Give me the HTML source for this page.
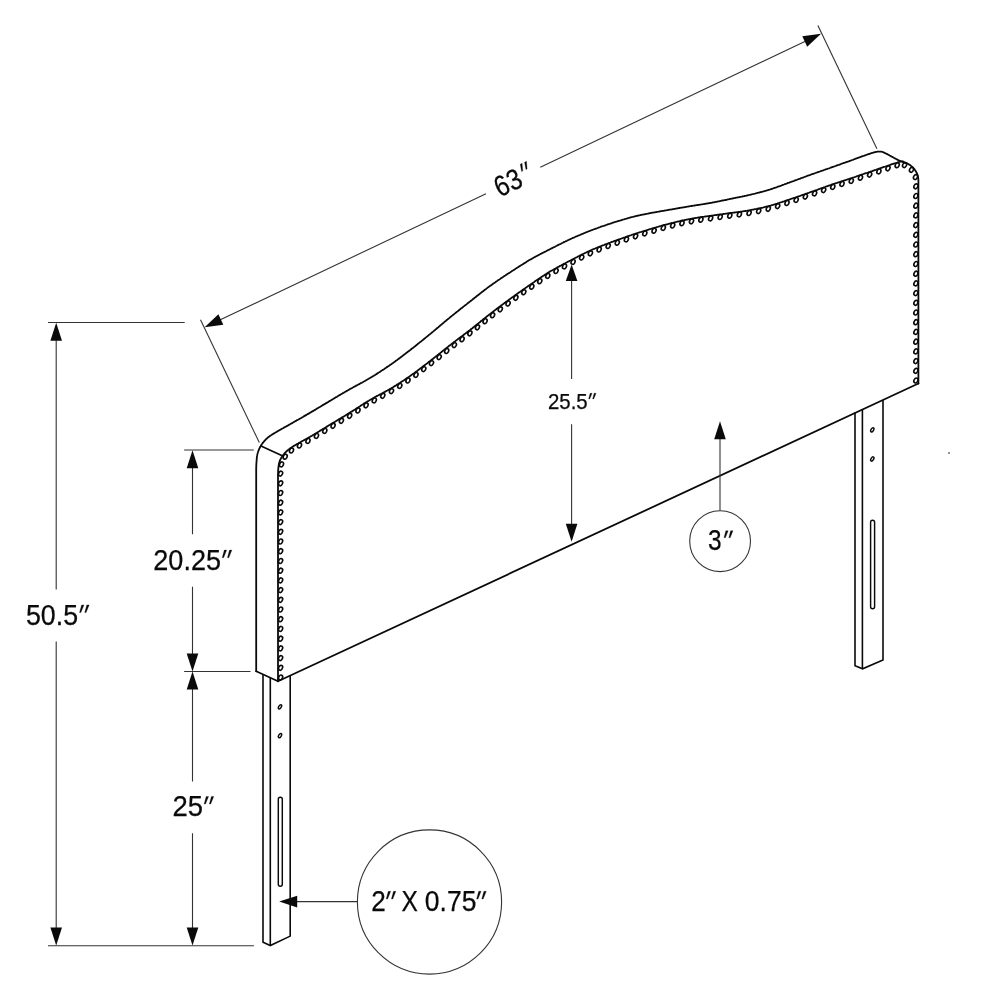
<!DOCTYPE html>
<html lang="en">
<head>
<meta charset="utf-8">
<title>Headboard dimensions</title>
<style>
html,body{margin:0;padding:0;background:#fff;}
body{width:981px;height:1000px;overflow:hidden;font-family:"Liberation Sans",sans-serif;}
svg{display:block;will-change:transform;}
</style>
</head>
<body>
<svg width="981" height="1000" viewBox="0 0 981 1000" role="img" aria-label="Headboard dimension drawing">
<rect width="981" height="1000" fill="#fff"/>
<g fill="none" stroke="#0a0a0a" stroke-width="1.8" stroke-linejoin="round" stroke-linecap="round">
<path d="M256.2 671.3 L256.2 470.0 L256.2 469.6 L256.2 469.3 L256.2 468.9 L256.2 468.6 L256.2 468.2 L256.2 467.9 L256.2 467.5 L256.2 467.2 L256.3 466.9 L256.3 466.6 L256.3 466.2 L256.3 465.9 L256.3 465.6 L256.3 465.3 L256.3 465.0 L256.3 464.6 L256.3 464.3 L256.4 464.0 L256.4 463.7 L256.4 463.3 L256.4 463.0 L256.4 462.7 L256.5 462.3 L256.5 462.0 L256.5 461.7 L256.6 461.3 L256.6 461.0 L256.6 460.6 L256.6 460.2 L256.7 459.9 L256.7 459.5 L256.7 459.2 L256.7 458.8 L256.8 458.4 L256.8 458.1 L256.8 457.7 L256.9 457.3 L256.9 457.0 L257.0 456.6 L257.0 456.3 L257.1 455.9 L257.1 455.5 L257.2 455.2 L257.3 454.8 L257.3 454.5 L257.4 454.1 L257.5 453.8 L257.6 453.4 L257.7 453.0 L257.8 452.7 L257.9 452.3 L258.0 452.0 L258.1 451.6 L258.3 451.3 L258.4 450.9 L258.5 450.6 L258.7 450.2 L258.8 449.9 L258.9 449.6 L259.1 449.2 L259.2 448.9 L259.4 448.5 L259.6 448.2 L259.7 447.8 L259.9 447.5 L260.1 447.2 L260.2 446.8 L260.4 446.5 L260.6 446.2 L260.8 445.8 L261.0 445.5 L261.2 445.2 L261.4 444.9 L261.6 444.6 L261.8 444.2 L262.0 443.9 L262.3 443.6 L262.5 443.3 L262.7 443.0 L263.0 442.7 L263.2 442.4 L263.5 442.1 L263.7 441.8 L264.0 441.5 L264.2 441.2 L264.5 440.9 L264.7 440.6 L265.0 440.3 L265.3 440.0 L265.6 439.7 L265.8 439.5 L266.1 439.2 L266.4 438.9 L266.7 438.6 L267.0 438.4 L267.3 438.1 L267.6 437.8 L267.9 437.6 L268.2 437.3 L268.5 437.1 L268.7 436.9 L269.0 436.7 L269.3 436.5 L269.6 436.2 L269.9 436.0 L270.2 435.8 L270.5 435.6 L270.8 435.4 L271.1 435.2 L271.5 435.0 L271.8 434.8 L272.2 434.5 L272.5 434.3 L272.9 434.1 L273.3 433.8 L273.7 433.6 L274.1 433.3 L274.6 433.1 L275.0 432.8 L275.5 432.5 L276.0 432.2 L276.5 431.9 L277.0 431.6 L277.6 431.3 L278.1 430.9 L278.7 430.6 L279.3 430.3 L279.9 429.9 L280.5 429.6 L281.1 429.2 L281.7 428.9 L282.4 428.5 L283.0 428.2 L283.7 427.8 L284.4 427.4 L285.1 427.0 L285.8 426.7 L286.5 426.3 L287.2 425.9 L287.9 425.5 L288.6 425.1 L289.3 424.6 L290.1 424.2 L290.8 423.8 L291.6 423.4 L292.3 422.9 L293.1 422.5 L293.9 422.0 L294.7 421.6 L295.5 421.1 L296.4 420.6 L297.2 420.1 L298.1 419.7 L298.9 419.2 L299.8 418.7 L300.7 418.2 L301.6 417.7 L302.4 417.2 L303.3 416.7 L304.2 416.1 L305.1 415.6 L306.0 415.1 L306.9 414.6 L307.7 414.1 L308.6 413.6 L309.5 413.1 L310.3 412.6 L311.2 412.1 L312.0 411.6 L312.9 411.1 L313.8 410.6 L314.6 410.1 L315.5 409.6 L316.3 409.1 L317.2 408.5 L318.0 408.0 L318.9 407.5 L319.8 407.0 L320.6 406.5 L321.5 405.9 L322.3 405.4 L323.2 404.9 L324.0 404.4 L324.9 403.9 L325.7 403.4 L326.6 402.9 L327.4 402.4 L328.2 401.9 L329.0 401.4 L329.9 400.9 L330.7 400.4 L331.5 399.9 L332.3 399.4 L333.1 399.0 L333.9 398.5 L334.7 398.0 L335.4 397.6 L336.2 397.1 L337.0 396.7 L337.7 396.2 L338.5 395.8 L339.2 395.3 L340.0 394.9 L340.7 394.4 L341.5 394.0 L342.2 393.6 L343.0 393.1 L343.8 392.7 L344.5 392.2 L345.3 391.8 L346.1 391.4 L346.8 390.9 L347.6 390.5 L348.4 390.0 L349.2 389.6 L350.0 389.1 L350.8 388.6 L351.6 388.2 L352.5 387.7 L353.3 387.3 L354.1 386.8 L355.0 386.4 L355.8 385.9 L356.7 385.4 L357.5 385.0 L358.4 384.5 L359.2 384.1 L360.1 383.6 L360.9 383.1 L361.8 382.7 L362.7 382.2 L363.5 381.7 L364.4 381.3 L365.3 380.8 L366.1 380.3 L367.0 379.8 L367.8 379.3 L368.7 378.8 L369.5 378.3 L370.4 377.8 L371.2 377.3 L372.1 376.8 L372.9 376.2 L373.8 375.7 L374.6 375.2 L375.5 374.7 L376.3 374.1 L377.2 373.6 L378.0 373.0 L378.9 372.5 L379.8 372.0 L380.6 371.4 L381.4 370.8 L382.3 370.3 L383.1 369.7 L384.0 369.2 L384.8 368.6 L385.7 368.0 L386.5 367.4 L387.4 366.9 L388.2 366.3 L389.1 365.7 L389.9 365.1 L390.8 364.5 L391.7 363.9 L392.5 363.3 L393.4 362.7 L394.2 362.1 L395.1 361.5 L395.9 360.8 L396.8 360.2 L397.6 359.6 L398.5 359.0 L399.3 358.3 L400.2 357.7 L401.0 357.0 L401.9 356.4 L402.7 355.7 L403.6 355.1 L404.4 354.4 L405.3 353.8 L406.1 353.1 L407.0 352.5 L407.8 351.8 L408.7 351.2 L409.5 350.5 L410.4 349.9 L411.2 349.2 L412.0 348.5 L412.9 347.9 L413.8 347.2 L414.6 346.5 L415.5 345.9 L416.3 345.2 L417.2 344.5 L418.0 343.8 L418.9 343.1 L419.8 342.4 L420.6 341.8 L421.5 341.1 L422.3 340.4 L423.2 339.7 L424.0 339.0 L424.9 338.3 L425.7 337.6 L426.6 336.9 L427.4 336.3 L428.2 335.6 L429.0 334.9 L429.9 334.2 L430.7 333.6 L431.5 332.9 L432.3 332.2 L433.1 331.6 L433.9 330.9 L434.7 330.3 L435.4 329.6 L436.2 329.0 L437.0 328.3 L437.7 327.7 L438.5 327.1 L439.2 326.4 L440.0 325.8 L440.7 325.1 L441.5 324.5 L442.2 323.9 L443.0 323.2 L443.8 322.6 L444.5 321.9 L445.3 321.3 L446.1 320.7 L446.8 320.0 L447.6 319.4 L448.4 318.7 L449.2 318.1 L450.0 317.4 L450.8 316.7 L451.6 316.1 L452.5 315.4 L453.3 314.7 L454.1 314.1 L455.0 313.4 L455.8 312.7 L456.7 312.0 L457.5 311.4 L458.4 310.7 L459.2 310.0 L460.1 309.3 L460.9 308.6 L461.8 308.0 L462.7 307.3 L463.5 306.6 L464.4 305.9 L465.3 305.2 L466.1 304.6 L467.0 303.9 L467.8 303.2 L468.7 302.5 L469.5 301.9 L470.4 301.2 L471.2 300.5 L472.1 299.9 L472.9 299.2 L473.8 298.5 L474.6 297.8 L475.5 297.2 L476.3 296.5 L477.2 295.8 L478.0 295.2 L478.9 294.5 L479.8 293.8 L480.6 293.1 L481.4 292.5 L482.3 291.8 L483.1 291.2 L484.0 290.5 L484.8 289.8 L485.7 289.2 L486.5 288.6 L487.4 287.9 L488.2 287.3 L489.1 286.6 L489.9 286.0 L490.8 285.4 L491.7 284.8 L492.5 284.2 L493.4 283.6 L494.2 283.0 L495.1 282.4 L495.9 281.8 L496.8 281.2 L497.6 280.6 L498.5 280.0 L499.3 279.5 L500.2 278.9 L501.0 278.3 L501.9 277.7 L502.7 277.2 L503.6 276.6 L504.4 276.0 L505.3 275.5 L506.1 274.9 L507.0 274.4 L507.8 273.8 L508.7 273.3 L509.5 272.7 L510.4 272.2 L511.2 271.6 L512.0 271.0 L512.9 270.5 L513.8 269.9 L514.6 269.4 L515.5 268.8 L516.3 268.3 L517.2 267.7 L518.0 267.2 L518.9 266.6 L519.8 266.1 L520.6 265.5 L521.5 265.0 L522.3 264.5 L523.2 263.9 L524.0 263.4 L524.9 262.9 L525.7 262.4 L526.6 261.8 L527.4 261.3 L528.2 260.8 L529.0 260.3 L529.9 259.8 L530.7 259.4 L531.5 258.9 L532.3 258.4 L533.1 258.0 L533.9 257.5 L534.7 257.1 L535.4 256.7 L536.2 256.3 L537.0 255.9 L537.7 255.5 L538.5 255.1 L539.2 254.7 L540.0 254.3 L540.7 253.9 L541.5 253.5 L542.2 253.1 L543.0 252.7 L543.8 252.4 L544.5 252.0 L545.3 251.6 L546.1 251.2 L546.8 250.8 L547.6 250.4 L548.4 250.0 L549.2 249.6 L550.0 249.2 L550.8 248.8 L551.6 248.4 L552.5 247.9 L553.3 247.5 L554.1 247.1 L555.0 246.7 L555.8 246.2 L556.7 245.8 L557.5 245.4 L558.4 244.9 L559.2 244.5 L560.1 244.1 L560.9 243.7 L561.8 243.2 L562.7 242.8 L563.5 242.4 L564.4 241.9 L565.3 241.5 L566.1 241.1 L567.0 240.7 L567.8 240.3 L568.7 239.9 L569.5 239.5 L570.4 239.1 L571.2 238.7 L572.1 238.3 L572.9 237.9 L573.8 237.6 L574.6 237.2 L575.5 236.8 L576.4 236.4 L577.2 236.1 L578.0 235.7 L578.9 235.3 L579.8 235.0 L580.6 234.6 L581.4 234.3 L582.3 233.9 L583.1 233.6 L584.0 233.2 L584.8 232.9 L585.7 232.5 L586.5 232.2 L587.4 231.8 L588.2 231.5 L589.1 231.2 L589.9 230.8 L590.8 230.5 L591.7 230.2 L592.5 229.8 L593.4 229.5 L594.2 229.2 L595.1 228.9 L595.9 228.6 L596.8 228.3 L597.6 228.0 L598.5 227.6 L599.3 227.3 L600.2 227.0 L601.0 226.7 L601.9 226.4 L602.7 226.2 L603.6 225.9 L604.4 225.6 L605.3 225.3 L606.1 225.0 L607.0 224.7 L607.8 224.4 L608.7 224.1 L609.5 223.9 L610.4 223.6 L611.2 223.3 L612.0 223.0 L612.9 222.7 L613.8 222.5 L614.6 222.2 L615.5 221.9 L616.3 221.6 L617.2 221.4 L618.0 221.1 L618.9 220.8 L619.8 220.6 L620.6 220.3 L621.5 220.1 L622.3 219.8 L623.2 219.5 L624.0 219.3 L624.9 219.0 L625.7 218.8 L626.6 218.6 L627.4 218.3 L628.2 218.1 L629.0 217.9 L629.9 217.6 L630.7 217.4 L631.5 217.2 L632.3 217.0 L633.1 216.8 L633.9 216.6 L634.7 216.4 L635.4 216.2 L636.2 216.0 L637.0 215.9 L637.7 215.7 L638.5 215.5 L639.2 215.4 L640.0 215.2 L640.7 215.0 L641.5 214.9 L642.2 214.7 L643.0 214.6 L643.8 214.4 L644.5 214.3 L645.3 214.1 L646.1 214.0 L646.8 213.8 L647.6 213.7 L648.4 213.5 L649.2 213.4 L650.0 213.2 L650.8 213.0 L651.6 212.9 L652.5 212.7 L653.3 212.6 L654.1 212.4 L655.0 212.3 L655.8 212.1 L656.7 212.0 L657.5 211.8 L658.4 211.7 L659.2 211.5 L660.1 211.4 L660.9 211.2 L661.8 211.1 L662.7 210.9 L663.5 210.8 L664.4 210.6 L665.3 210.5 L666.1 210.3 L667.0 210.2 L667.8 210.0 L668.7 209.9 L669.5 209.7 L670.4 209.6 L671.3 209.5 L672.1 209.3 L673.0 209.1 L673.9 209.0 L674.8 208.8 L675.7 208.7 L676.7 208.5 L677.6 208.4 L678.5 208.2 L679.4 208.0 L680.3 207.9 L681.2 207.7 L682.1 207.6 L683.0 207.4 L683.9 207.3 L684.8 207.1 L685.6 207.0 L686.4 206.8 L687.2 206.7 L688.0 206.6 L688.7 206.4 L689.5 206.3 L690.1 206.2 L690.8 206.1 L691.4 206.0 L692.0 205.9 L692.6 205.8 L693.1 205.7 L693.6 205.6 L694.1 205.6 L694.5 205.5 L695.0 205.4 L695.4 205.4 L695.8 205.3 L696.2 205.2 L696.5 205.2 L696.9 205.1 L697.3 205.1 L697.6 205.0 L698.0 205.0 L698.3 204.9 L698.7 204.9 L699.1 204.8 L699.4 204.8 L699.8 204.7 L700.2 204.6 L700.6 204.6 L701.0 204.5 L701.4 204.4 L701.8 204.4 L702.2 204.3 L702.6 204.3 L703.0 204.2 L703.3 204.1 L703.7 204.1 L704.0 204.0 L704.4 204.0 L704.7 203.9 L705.1 203.9 L705.5 203.8 L705.8 203.7 L706.2 203.7 L706.6 203.6 L707.1 203.5 L707.5 203.5 L707.9 203.4 L708.4 203.3 L708.9 203.2 L709.4 203.1 L710.0 203.0 L710.6 202.9 L711.2 202.8 L711.9 202.7 L712.5 202.5 L713.3 202.4 L714.0 202.3 L714.8 202.1 L715.6 201.9 L716.4 201.8 L717.3 201.6 L718.2 201.4 L719.0 201.3 L719.9 201.1 L720.8 200.9 L721.7 200.7 L722.7 200.5 L723.6 200.3 L724.5 200.1 L725.4 200.0 L726.3 199.8 L727.2 199.6 L728.1 199.4 L729.0 199.2 L729.8 199.0 L730.7 198.9 L731.5 198.7 L732.3 198.5 L733.1 198.4 L733.9 198.2 L734.7 198.1 L735.4 197.9 L736.2 197.7 L737.0 197.6 L737.7 197.4 L738.5 197.3 L739.2 197.1 L740.0 197.0 L740.7 196.8 L741.5 196.7 L742.2 196.5 L743.0 196.4 L743.8 196.2 L744.5 196.0 L745.3 195.9 L746.1 195.7 L746.8 195.5 L747.6 195.4 L748.4 195.2 L749.2 195.0 L750.0 194.8 L750.8 194.6 L751.6 194.4 L752.5 194.2 L753.3 194.0 L754.1 193.8 L755.0 193.6 L755.8 193.4 L756.7 193.2 L757.5 192.9 L758.4 192.7 L759.2 192.5 L760.1 192.3 L760.9 192.0 L761.8 191.8 L762.7 191.6 L763.5 191.3 L764.4 191.1 L765.3 190.8 L766.1 190.6 L767.0 190.3 L767.8 190.1 L768.7 189.8 L769.5 189.6 L770.4 189.3 L771.2 189.0 L772.1 188.8 L772.9 188.5 L773.8 188.2 L774.6 187.9 L775.5 187.6 L776.4 187.3 L777.2 187.0 L778.0 186.7 L778.9 186.4 L779.8 186.1 L780.6 185.8 L781.4 185.5 L782.3 185.1 L783.1 184.8 L784.0 184.5 L784.8 184.2 L785.7 183.9 L786.5 183.6 L787.4 183.2 L788.2 182.9 L789.1 182.6 L789.9 182.3 L790.8 182.0 L791.7 181.7 L792.5 181.4 L793.4 181.1 L794.2 180.8 L795.1 180.4 L795.9 180.1 L796.8 179.8 L797.6 179.5 L798.5 179.2 L799.3 178.9 L800.2 178.6 L801.0 178.2 L801.9 177.9 L802.7 177.6 L803.6 177.3 L804.4 177.0 L805.3 176.7 L806.1 176.4 L807.0 176.0 L807.8 175.7 L808.7 175.4 L809.5 175.1 L810.4 174.8 L811.2 174.5 L812.0 174.2 L812.9 173.9 L813.8 173.6 L814.6 173.3 L815.5 173.0 L816.3 172.7 L817.2 172.4 L818.0 172.1 L818.9 171.8 L819.8 171.5 L820.6 171.2 L821.5 170.9 L822.3 170.6 L823.2 170.3 L824.0 170.0 L824.9 169.7 L825.7 169.4 L826.6 169.1 L827.4 168.8 L828.2 168.5 L829.0 168.3 L829.9 168.0 L830.7 167.7 L831.5 167.4 L832.3 167.1 L833.1 166.8 L833.9 166.5 L834.7 166.3 L835.5 166.0 L836.3 165.7 L837.1 165.4 L837.9 165.1 L838.7 164.9 L839.5 164.6 L840.2 164.3 L841.0 164.0 L841.8 163.7 L842.6 163.5 L843.3 163.2 L844.1 162.9 L844.8 162.7 L845.6 162.4 L846.3 162.1 L847.1 161.8 L847.8 161.6 L848.6 161.3 L849.3 161.1 L850.0 160.8 L850.7 160.5 L851.4 160.3 L852.2 160.0 L852.9 159.8 L853.6 159.5 L854.4 159.2 L855.1 159.0 L855.8 158.7 L856.5 158.4 L857.2 158.2 L857.9 157.9 L858.6 157.7 L859.3 157.4 L860.0 157.2 L860.7 156.9 L861.3 156.7 L862.0 156.4 L862.6 156.2 L863.2 156.0 L863.8 155.8 L864.4 155.6 L864.9 155.4 L865.5 155.2 L866.0 155.0 L866.5 154.8 L867.0 154.7 L867.4 154.5 L867.9 154.3 L868.3 154.2 L868.7 154.1 L869.1 153.9 L869.5 153.8 L869.9 153.7 L870.2 153.6 L870.6 153.4 L870.9 153.3 L871.3 153.2 L871.6 153.1 L871.9 153.0 L872.2 152.9 L872.5 152.8 L872.8 152.8 L873.1 152.7 L873.4 152.6 L873.7 152.5 L873.9 152.4 L874.2 152.4 L874.5 152.3 L874.8 152.2 L875.0 152.2 L875.3 152.1 L875.5 152.0 L875.8 152.0 L876.0 151.9 L876.2 151.9 L876.5 151.8 L876.7 151.8 L876.9 151.8 L877.1 151.7 L877.3 151.7 L877.5 151.7 L877.6 151.6 L877.8 151.6 L878.0 151.6 L878.2 151.6 L878.4 151.6 L878.6 151.6 L878.8 151.6 L879.0 151.6 L879.2 151.6 L879.4 151.6 L879.6 151.6 L879.8 151.6 L880.0 151.6 L880.2 151.6 L880.3 151.6 L880.5 151.6 L880.7 151.6 L880.8 151.6 L881.0 151.7 L881.1 151.7 L881.3 151.7 L881.4 151.7 L881.6 151.7 L881.8 151.8 L881.9 151.8 L882.1 151.9 L882.3 151.9 L882.5 152.0 L882.8 152.1 L883.0 152.2 L883.3 152.3 L883.6 152.4 L884.0 152.6 L884.3 152.7 L884.7 152.9 L885.1 153.1 L885.6 153.3 L886.1 153.6 L886.6 153.8 L887.2 154.1 L887.8 154.4 L888.4 154.8 L889.0 155.1 L889.6 155.5 L890.3 155.8 L891.0 156.2 L891.6 156.6 L892.3 156.9 L893.0 157.3 L893.7 157.7 L894.3 158.0 L895.0 158.4 L895.6 158.7 L896.2 159.0 L896.8 159.4 L897.4 159.6 L897.9 159.9 L898.4 160.2 L898.9 160.4 L899.3 160.6 L899.8 160.8 L900.2 161.0 L900.6 161.2 L901.0 161.3 L901.4 161.5 L901.8 161.6 L902.2 161.8 L902.6 161.9 L902.9 162.0 L903.3 162.2 L903.6 162.3 L903.9 162.4 L904.2 162.5 L904.5 162.6 L904.8 162.6 L905.0 162.7 L905.3 162.8 L905.5 162.9 L905.7 162.9 L906.0 163.0 L906.2 163.1 L906.3 163.1 L906.5 163.2"/>
<path d="M278.0 681.3 L278.0 477.0 L278.0 476.6 L278.0 476.2 L278.0 475.9 L278.0 475.5 L278.0 475.1 L278.0 474.8 L278.0 474.4 L278.0 474.1 L278.0 473.7 L278.1 473.4 L278.1 473.0 L278.1 472.7 L278.1 472.3 L278.1 472.0 L278.1 471.7 L278.1 471.3 L278.1 471.0 L278.1 470.7 L278.2 470.3 L278.2 470.0 L278.2 469.7 L278.2 469.3 L278.3 469.0 L278.3 468.7 L278.3 468.4 L278.4 468.1 L278.4 467.7 L278.4 467.4 L278.5 467.1 L278.5 466.8 L278.6 466.5 L278.6 466.2 L278.6 465.8 L278.7 465.5 L278.7 465.2 L278.8 464.9 L278.8 464.6 L278.9 464.3 L278.9 464.0 L279.0 463.7 L279.1 463.4 L279.1 463.2 L279.2 462.9 L279.3 462.6 L279.3 462.3 L279.4 462.0 L279.5 461.8 L279.6 461.5 L279.7 461.2 L279.8 461.0 L279.9 460.7 L280.0 460.5 L280.1 460.2 L280.2 460.0 L280.3 459.7 L280.4 459.5 L280.5 459.3 L280.6 459.1 L280.7 458.8 L280.9 458.6 L281.0 458.4 L281.1 458.2 L281.2 457.9 L281.4 457.7 L281.5 457.5 L281.7 457.3 L281.8 457.0 L282.0 456.8 L282.1 456.6 L282.3 456.4 L282.4 456.1 L282.6 455.9 L282.8 455.7 L282.9 455.4 L283.1 455.2 L283.3 455.0 L283.5 454.7 L283.7 454.5 L283.8 454.3 L284.0 454.0 L284.2 453.8 L284.4 453.6 L284.6 453.3 L284.8 453.1 L285.0 452.9 L285.2 452.6 L285.5 452.4 L285.7 452.2 L285.9 451.9 L286.2 451.7 L286.4 451.5 L286.6 451.2 L286.9 451.0 L287.2 450.8 L287.4 450.5 L287.7 450.3 L288.0 450.1 L288.3 449.8 L288.5 449.6 L288.8 449.4 L289.1 449.2 L289.4 449.0 L289.7 448.8 L289.9 448.5 L290.2 448.3 L290.5 448.1 L290.8 447.9 L291.2 447.7 L291.5 447.5 L291.8 447.2 L292.2 447.0 L292.5 446.8 L292.9 446.6 L293.3 446.3 L293.7 446.1 L294.1 445.8 L294.5 445.5 L295.0 445.3 L295.4 445.0 L295.9 444.7 L296.4 444.4 L296.9 444.1 L297.4 443.8 L298.0 443.5 L298.5 443.2 L299.1 442.8 L299.7 442.5 L300.3 442.2 L300.9 441.9 L301.5 441.5 L302.2 441.2 L302.8 440.8 L303.4 440.5 L304.1 440.1 L304.8 439.7 L305.5 439.4 L306.2 439.0 L306.9 438.6 L307.6 438.2 L308.3 437.8 L309.0 437.4 L309.7 437.0 L310.5 436.5 L311.2 436.1 L312.0 435.7 L312.7 435.2 L313.5 434.7 L314.3 434.3 L315.1 433.8 L316.0 433.3 L316.8 432.8 L317.7 432.2 L318.5 431.7 L319.4 431.2 L320.3 430.6 L321.2 430.1 L322.0 429.6 L322.9 429.0 L323.8 428.5 L324.7 428.0 L325.6 427.4 L326.4 426.9 L327.3 426.4 L328.2 425.8 L329.0 425.3 L329.9 424.8 L330.7 424.3 L331.5 423.8 L332.3 423.3 L333.1 422.8 L333.9 422.4 L334.7 421.9 L335.4 421.4 L336.2 421.0 L337.0 420.5 L337.7 420.0 L338.5 419.6 L339.2 419.1 L340.0 418.7 L340.7 418.2 L341.5 417.8 L342.2 417.3 L343.0 416.9 L343.8 416.4 L344.5 416.0 L345.3 415.5 L346.1 415.0 L346.8 414.6 L347.6 414.1 L348.4 413.6 L349.2 413.1 L350.0 412.6 L350.8 412.1 L351.6 411.6 L352.5 411.1 L353.3 410.5 L354.1 410.0 L355.0 409.5 L355.8 408.9 L356.7 408.4 L357.5 407.8 L358.4 407.3 L359.2 406.7 L360.1 406.2 L360.9 405.6 L361.8 405.0 L362.7 404.5 L363.5 403.9 L364.4 403.4 L365.3 402.8 L366.1 402.3 L367.0 401.8 L367.8 401.2 L368.7 400.7 L369.5 400.2 L370.4 399.7 L371.2 399.2 L372.1 398.7 L372.9 398.2 L373.8 397.8 L374.6 397.3 L375.5 396.8 L376.3 396.4 L377.2 395.9 L378.0 395.5 L378.9 395.0 L379.8 394.6 L380.6 394.1 L381.4 393.7 L382.3 393.2 L383.1 392.8 L384.0 392.3 L384.8 391.9 L385.7 391.4 L386.5 390.9 L387.4 390.5 L388.2 390.0 L389.1 389.5 L389.9 389.0 L390.8 388.5 L391.7 388.0 L392.5 387.5 L393.4 387.0 L394.2 386.4 L395.1 385.9 L395.9 385.4 L396.8 384.8 L397.6 384.3 L398.5 383.8 L399.3 383.2 L400.2 382.7 L401.0 382.1 L401.9 381.5 L402.7 381.0 L403.6 380.4 L404.4 379.9 L405.3 379.3 L406.1 378.7 L407.0 378.1 L407.8 377.6 L408.7 377.0 L409.5 376.4 L410.4 375.8 L411.2 375.2 L412.0 374.6 L412.9 374.0 L413.8 373.4 L414.6 372.8 L415.5 372.1 L416.3 371.5 L417.2 370.9 L418.0 370.2 L418.9 369.6 L419.8 368.9 L420.6 368.3 L421.5 367.6 L422.3 367.0 L423.2 366.3 L424.0 365.7 L424.9 365.0 L425.7 364.4 L426.6 363.7 L427.4 363.1 L428.2 362.4 L429.0 361.8 L429.9 361.2 L430.7 360.5 L431.5 359.9 L432.3 359.3 L433.1 358.7 L433.9 358.0 L434.7 357.4 L435.4 356.8 L436.2 356.2 L437.0 355.6 L437.7 355.0 L438.5 354.4 L439.2 353.8 L440.0 353.2 L440.7 352.6 L441.5 352.0 L442.2 351.4 L443.0 350.7 L443.8 350.1 L444.5 349.5 L445.3 348.9 L446.1 348.3 L446.8 347.7 L447.6 347.1 L448.4 346.5 L449.2 345.8 L450.0 345.2 L450.8 344.6 L451.6 343.9 L452.5 343.3 L453.3 342.7 L454.1 342.0 L455.0 341.4 L455.8 340.8 L456.7 340.1 L457.5 339.5 L458.4 338.8 L459.2 338.2 L460.1 337.5 L460.9 336.9 L461.8 336.3 L462.7 335.6 L463.5 335.0 L464.4 334.3 L465.3 333.6 L466.1 333.0 L467.0 332.3 L467.8 331.7 L468.7 331.0 L469.5 330.4 L470.4 329.7 L471.2 329.0 L472.1 328.4 L472.9 327.7 L473.8 327.0 L474.6 326.3 L475.5 325.7 L476.3 325.0 L477.2 324.3 L478.0 323.6 L478.9 322.9 L479.8 322.2 L480.6 321.5 L481.4 320.8 L482.3 320.2 L483.1 319.5 L484.0 318.8 L484.8 318.1 L485.7 317.4 L486.5 316.7 L487.4 316.1 L488.2 315.4 L489.1 314.7 L489.9 314.1 L490.8 313.4 L491.7 312.7 L492.5 312.1 L493.4 311.4 L494.2 310.8 L495.1 310.1 L495.9 309.5 L496.8 308.8 L497.6 308.2 L498.5 307.5 L499.3 306.9 L500.2 306.3 L501.0 305.6 L501.9 305.0 L502.7 304.4 L503.6 303.7 L504.4 303.1 L505.3 302.5 L506.1 301.8 L507.0 301.2 L507.8 300.6 L508.7 300.0 L509.5 299.3 L510.4 298.7 L511.2 298.1 L512.0 297.5 L512.9 296.9 L513.8 296.3 L514.6 295.6 L515.5 295.0 L516.3 294.4 L517.2 293.8 L518.0 293.2 L518.9 292.6 L519.8 292.0 L520.6 291.4 L521.5 290.8 L522.3 290.2 L523.2 289.6 L524.0 289.0 L524.9 288.4 L525.7 287.8 L526.6 287.2 L527.4 286.6 L528.2 286.1 L529.0 285.5 L529.9 284.9 L530.7 284.4 L531.5 283.8 L532.3 283.3 L533.1 282.7 L533.9 282.2 L534.7 281.6 L535.4 281.1 L536.2 280.6 L537.0 280.1 L537.7 279.5 L538.5 279.0 L539.2 278.5 L540.0 278.0 L540.7 277.5 L541.5 277.0 L542.2 276.5 L543.0 276.0 L543.8 275.5 L544.5 275.0 L545.3 274.5 L546.1 274.0 L546.8 273.5 L547.6 273.1 L548.4 272.6 L549.2 272.1 L550.0 271.6 L550.8 271.1 L551.6 270.6 L552.5 270.2 L553.3 269.7 L554.1 269.2 L555.0 268.7 L555.8 268.3 L556.7 267.8 L557.5 267.3 L558.4 266.9 L559.2 266.4 L560.1 265.9 L560.9 265.5 L561.8 265.0 L562.7 264.5 L563.5 264.1 L564.4 263.6 L565.3 263.2 L566.1 262.7 L567.0 262.3 L567.8 261.8 L568.7 261.4 L569.5 260.9 L570.4 260.5 L571.2 260.1 L572.1 259.6 L572.9 259.2 L573.8 258.7 L574.6 258.3 L575.5 257.8 L576.4 257.4 L577.2 257.0 L578.0 256.5 L578.9 256.1 L579.8 255.6 L580.6 255.2 L581.4 254.8 L582.3 254.4 L583.1 253.9 L584.0 253.5 L584.8 253.1 L585.7 252.7 L586.5 252.3 L587.4 251.9 L588.2 251.5 L589.1 251.1 L589.9 250.7 L590.8 250.3 L591.7 249.9 L592.5 249.5 L593.4 249.2 L594.2 248.8 L595.1 248.5 L595.9 248.1 L596.8 247.8 L597.6 247.4 L598.5 247.1 L599.3 246.7 L600.2 246.4 L601.0 246.1 L601.9 245.7 L602.7 245.4 L603.6 245.1 L604.4 244.8 L605.3 244.4 L606.1 244.1 L607.0 243.8 L607.8 243.5 L608.7 243.2 L609.5 242.8 L610.4 242.5 L611.2 242.2 L612.0 241.9 L612.9 241.6 L613.8 241.2 L614.6 240.9 L615.5 240.6 L616.3 240.3 L617.2 240.0 L618.0 239.7 L618.9 239.4 L619.8 239.1 L620.6 238.8 L621.5 238.5 L622.3 238.2 L623.2 237.9 L624.0 237.6 L624.9 237.3 L625.7 237.0 L626.6 236.7 L627.4 236.4 L628.2 236.1 L629.0 235.8 L629.9 235.5 L630.7 235.3 L631.5 235.0 L632.3 234.7 L633.1 234.5 L633.9 234.2 L634.7 234.0 L635.4 233.7 L636.2 233.5 L637.0 233.2 L637.7 233.0 L638.5 232.7 L639.2 232.5 L640.0 232.2 L640.7 232.0 L641.5 231.8 L642.2 231.5 L643.0 231.3 L643.8 231.1 L644.5 230.8 L645.3 230.6 L646.1 230.4 L646.8 230.2 L647.6 229.9 L648.4 229.7 L649.2 229.4 L650.0 229.2 L650.8 229.0 L651.6 228.7 L652.5 228.5 L653.3 228.2 L654.1 228.0 L655.0 227.7 L655.8 227.5 L656.7 227.2 L657.5 227.0 L658.4 226.7 L659.2 226.5 L660.1 226.2 L660.9 226.0 L661.8 225.7 L662.7 225.5 L663.5 225.2 L664.4 225.0 L665.3 224.8 L666.1 224.5 L667.0 224.3 L667.8 224.1 L668.7 223.8 L669.5 223.6 L670.4 223.4 L671.2 223.2 L672.1 223.0 L672.9 222.8 L673.8 222.5 L674.6 222.3 L675.5 222.1 L676.4 221.9 L677.2 221.7 L678.0 221.5 L678.9 221.3 L679.8 221.1 L680.6 220.9 L681.4 220.7 L682.3 220.5 L683.1 220.4 L684.0 220.2 L684.8 220.0 L685.7 219.8 L686.5 219.6 L687.4 219.5 L688.2 219.3 L689.1 219.1 L689.9 219.0 L690.8 218.8 L691.7 218.6 L692.5 218.5 L693.4 218.3 L694.2 218.2 L695.1 218.1 L695.9 217.9 L696.8 217.8 L697.6 217.6 L698.5 217.5 L699.3 217.4 L700.2 217.3 L701.0 217.1 L701.9 217.0 L702.7 216.9 L703.6 216.8 L704.4 216.7 L705.3 216.5 L706.1 216.4 L707.0 216.3 L707.8 216.2 L708.7 216.1 L709.5 215.9 L710.4 215.8 L711.2 215.7 L712.0 215.6 L712.9 215.5 L713.8 215.3 L714.6 215.2 L715.5 215.1 L716.3 215.0 L717.2 214.9 L718.0 214.7 L718.9 214.6 L719.8 214.5 L720.6 214.4 L721.5 214.3 L722.3 214.2 L723.2 214.0 L724.0 213.9 L724.9 213.8 L725.7 213.7 L726.6 213.6 L727.4 213.5 L728.2 213.4 L729.0 213.2 L729.9 213.1 L730.7 213.0 L731.5 212.9 L732.3 212.8 L733.1 212.7 L733.9 212.6 L734.7 212.5 L735.4 212.4 L736.2 212.3 L737.0 212.2 L737.7 212.1 L738.5 212.0 L739.2 211.9 L740.0 211.8 L740.7 211.7 L741.5 211.6 L742.2 211.5 L743.0 211.3 L743.8 211.2 L744.5 211.1 L745.3 211.0 L746.1 210.9 L746.8 210.8 L747.6 210.6 L748.4 210.5 L749.2 210.3 L750.0 210.2 L750.8 210.0 L751.6 209.9 L752.5 209.7 L753.3 209.6 L754.1 209.4 L755.0 209.2 L755.8 209.1 L756.7 208.9 L757.5 208.7 L758.4 208.5 L759.2 208.3 L760.1 208.1 L760.9 208.0 L761.8 207.8 L762.7 207.6 L763.5 207.4 L764.4 207.1 L765.3 206.9 L766.1 206.7 L767.0 206.5 L767.8 206.3 L768.7 206.1 L769.5 205.8 L770.4 205.6 L771.2 205.4 L772.1 205.1 L772.9 204.9 L773.8 204.6 L774.6 204.4 L775.5 204.1 L776.4 203.8 L777.2 203.6 L778.0 203.3 L778.9 203.0 L779.8 202.7 L780.6 202.5 L781.4 202.2 L782.3 201.9 L783.1 201.6 L784.0 201.3 L784.8 201.0 L785.7 200.7 L786.5 200.4 L787.4 200.2 L788.2 199.9 L789.1 199.6 L789.9 199.3 L790.8 199.0 L791.7 198.7 L792.5 198.4 L793.4 198.1 L794.2 197.8 L795.1 197.6 L795.9 197.3 L796.8 197.0 L797.6 196.7 L798.5 196.4 L799.3 196.1 L800.2 195.8 L801.0 195.5 L801.9 195.2 L802.7 194.9 L803.6 194.6 L804.4 194.3 L805.3 194.0 L806.1 193.7 L807.0 193.4 L807.8 193.1 L808.7 192.8 L809.5 192.5 L810.4 192.2 L811.2 191.9 L812.0 191.6 L812.9 191.3 L813.8 191.0 L814.6 190.7 L815.5 190.4 L816.3 190.1 L817.2 189.8 L818.0 189.5 L818.9 189.2 L819.8 188.9 L820.6 188.5 L821.5 188.2 L822.3 187.9 L823.2 187.6 L824.0 187.3 L824.9 187.0 L825.7 186.7 L826.6 186.4 L827.4 186.1 L828.2 185.8 L829.0 185.5 L829.9 185.3 L830.7 185.0 L831.5 184.7 L832.3 184.4 L833.1 184.2 L833.9 183.9 L834.7 183.6 L835.4 183.4 L836.2 183.1 L837.0 182.9 L837.7 182.6 L838.5 182.4 L839.3 182.1 L840.0 181.9 L840.8 181.6 L841.5 181.4 L842.3 181.1 L843.0 180.9 L843.8 180.6 L844.5 180.4 L845.3 180.1 L846.1 179.9 L846.9 179.6 L847.6 179.4 L848.4 179.1 L849.2 178.9 L850.0 178.6 L850.8 178.3 L851.6 178.1 L852.4 177.8 L853.1 177.5 L853.9 177.3 L854.7 177.0 L855.5 176.8 L856.2 176.5 L857.0 176.2 L857.8 176.0 L858.6 175.7 L859.3 175.4 L860.1 175.2 L861.0 174.9 L861.8 174.6 L862.6 174.3 L863.5 174.0 L864.3 173.7 L865.2 173.4 L866.1 173.1 L867.1 172.8 L868.0 172.5 L869.0 172.1 L870.0 171.8 L871.1 171.4 L872.2 171.1 L873.4 170.6 L874.6 170.2 L875.9 169.8 L877.2 169.3 L878.5 168.9 L879.9 168.4 L881.3 167.9 L882.7 167.4 L884.1 166.9 L885.4 166.5 L886.8 166.0 L888.2 165.5 L889.5 165.1 L890.8 164.6 L892.0 164.2 L893.2 163.8 L894.4 163.4 L895.5 163.1 L896.5 162.8 L897.4 162.5 L898.2 162.2 L899.0 162.0 L899.7 161.8 L900.3 161.7 L900.8 161.5 L901.2 161.4 L901.6 161.4 L902.0 161.3 L902.2 161.3 L902.5 161.3 L902.7 161.3 L902.8 161.3 L902.9 161.4 L903.0 161.4 L903.1 161.5 L903.2 161.6 L903.2 161.6 L903.3 161.7 L903.3 161.8 L903.4 161.9 L903.4 162.0 L903.5 162.0 L903.6 162.1 L903.7 162.2 L903.8 162.3 L904.0 162.3 L904.2 162.3 L904.4 162.4 L904.6 162.4 L904.8 162.5 L905.0 162.6 L905.1 162.6 L905.3 162.7 L905.5 162.7 L905.7 162.8 L905.9 162.9 L906.1 162.9 L906.2 163.0 L906.4 163.1 L906.6 163.2 L906.8 163.2 L907.0 163.3 L907.1 163.4 L907.3 163.5 L907.5 163.6 L907.7 163.7 L907.9 163.8 L908.0 163.9 L908.2 164.0 L908.4 164.1 L908.6 164.2 L908.8 164.3 L909.0 164.4 L909.1 164.6 L909.3 164.7 L909.5 164.8 L909.7 164.9 L909.9 165.0 L910.1 165.2 L910.3 165.3 L910.5 165.4 L910.7 165.6 L910.9 165.7 L911.0 165.9 L911.2 166.0 L911.4 166.2 L911.6 166.3 L911.8 166.5 L912.0 166.6 L912.1 166.8 L912.3 166.9 L912.5 167.1 L912.6 167.2 L912.8 167.4 L913.0 167.6 L913.1 167.7 L913.3 167.9 L913.4 168.1 L913.6 168.2 L913.7 168.4 L913.9 168.6 L914.0 168.8 L914.2 169.0 L914.3 169.2 L914.5 169.3 L914.6 169.5 L914.8 169.7 L914.9 169.9 L915.0 170.1 L915.2 170.3 L915.3 170.5 L915.4 170.7 L915.5 170.9 L915.6 171.1 L915.8 171.2 L915.9 171.4 L916.0 171.6 L916.1 171.8 L916.2 172.0 L916.3 172.2 L916.4 172.3 L916.5 172.5 L916.6 172.7 L916.7 172.9 L916.8 173.1 L916.9 173.2 L916.9 173.4 L917.0 173.6 L917.1 173.8 L917.2 173.9 L917.2 174.1 L917.3 174.3 L917.4 174.5 L917.5 174.7 L917.5 174.9 L917.6 175.0 L917.6 175.2 L917.7 175.4 L917.7 175.6 L917.8 175.8 L917.9 176.0 L917.9 176.2 L917.9 176.4 L918.0 176.6 L918.0 176.8 L918.1 177.0 L918.1 177.2 L918.1 177.4 L918.2 177.6 L918.2 177.8 L918.2 178.0 L918.2 178.2 L918.2 178.4 L918.3 178.6 L918.3 178.8 L918.3 179.0 L918.3 179.2 L918.3 179.5 L918.3 179.7 L918.3 179.9 L918.4 180.2 L918.4 180.4 L918.4 180.7 L918.4 180.9 L918.4 181.2 L918.4 181.5 L918.4 383.5"/>
<path d="M261 446 L282.8 456"/>
<path d="M256.2 671.3 L278 681.3 L918.4 383.5"/>
</g>
<g fill="none" stroke="#0a0a0a" stroke-width="1.6" stroke-linejoin="miter">
<path d="M263 674.6 V942.3 L270.3 945.5 L290.2 936.1 V675.6"/>
<path d="M270.3 678 V945.5"/>
<path d="M855 412.4 V665.8 L862.6 668.8 L883 659.9 V400"/>
<path d="M862.4 409.3 V668.8"/>
</g>
<g fill="none" stroke="#0a0a0a" stroke-width="1.45">
<rect x="278.3" y="797.2" width="4" height="89" rx="2"/>
<rect x="870.6" y="520.2" width="4" height="88.5" rx="2"/>
<ellipse cx="280.0" cy="706.8" rx="1.25" ry="2.35" transform="rotate(32 280.0 706.8)"/>
<ellipse cx="280.0" cy="735.6" rx="1.25" ry="2.35" transform="rotate(32 280.0 735.6)"/>
<ellipse cx="872.3" cy="429.9" rx="1.25" ry="2.35" transform="rotate(32 872.3 429.9)"/>
<ellipse cx="872.3" cy="459.0" rx="1.25" ry="2.35" transform="rotate(32 872.3 459.0)"/>
</g>
<g fill="none" stroke="#0a0a0a" stroke-width="1.6">
<ellipse cx="280.6" cy="677.5" rx="1.85" ry="2.55" transform="rotate(28 280.6 677.5)"/>
<ellipse cx="280.6" cy="667.8" rx="1.85" ry="2.55" transform="rotate(28 280.6 667.8)"/>
<ellipse cx="280.6" cy="658.1" rx="1.85" ry="2.55" transform="rotate(28 280.6 658.1)"/>
<ellipse cx="280.6" cy="648.4" rx="1.85" ry="2.55" transform="rotate(28 280.6 648.4)"/>
<ellipse cx="280.6" cy="638.7" rx="1.85" ry="2.55" transform="rotate(28 280.6 638.7)"/>
<ellipse cx="280.6" cy="628.9" rx="1.85" ry="2.55" transform="rotate(28 280.6 628.9)"/>
<ellipse cx="280.6" cy="619.2" rx="1.85" ry="2.55" transform="rotate(28 280.6 619.2)"/>
<ellipse cx="280.6" cy="609.5" rx="1.85" ry="2.55" transform="rotate(28 280.6 609.5)"/>
<ellipse cx="280.6" cy="599.8" rx="1.85" ry="2.55" transform="rotate(28 280.6 599.8)"/>
<ellipse cx="280.6" cy="590.1" rx="1.85" ry="2.55" transform="rotate(28 280.6 590.1)"/>
<ellipse cx="280.6" cy="580.4" rx="1.85" ry="2.55" transform="rotate(28 280.6 580.4)"/>
<ellipse cx="280.6" cy="570.7" rx="1.85" ry="2.55" transform="rotate(28 280.6 570.7)"/>
<ellipse cx="280.6" cy="561.0" rx="1.85" ry="2.55" transform="rotate(28 280.6 561.0)"/>
<ellipse cx="280.6" cy="551.2" rx="1.85" ry="2.55" transform="rotate(28 280.6 551.2)"/>
<ellipse cx="280.6" cy="541.5" rx="1.85" ry="2.55" transform="rotate(28 280.6 541.5)"/>
<ellipse cx="280.6" cy="531.8" rx="1.85" ry="2.55" transform="rotate(28 280.6 531.8)"/>
<ellipse cx="280.6" cy="522.1" rx="1.85" ry="2.55" transform="rotate(28 280.6 522.1)"/>
<ellipse cx="280.6" cy="512.4" rx="1.85" ry="2.55" transform="rotate(28 280.6 512.4)"/>
<ellipse cx="280.6" cy="502.7" rx="1.85" ry="2.55" transform="rotate(28 280.6 502.7)"/>
<ellipse cx="280.6" cy="493.0" rx="1.85" ry="2.55" transform="rotate(28 280.6 493.0)"/>
<ellipse cx="280.6" cy="483.3" rx="1.85" ry="2.55" transform="rotate(28 280.6 483.3)"/>
<ellipse cx="280.6" cy="473.6" rx="1.85" ry="2.55" transform="rotate(28 280.6 473.6)"/>
<ellipse cx="281.5" cy="464.4" rx="1.85" ry="2.55" transform="rotate(28 281.5 464.4)"/>
<ellipse cx="285.2" cy="456.7" rx="1.85" ry="2.55" transform="rotate(28 285.2 456.7)"/>
<ellipse cx="291.5" cy="450.5" rx="1.85" ry="2.55" transform="rotate(28 291.5 450.5)"/>
<ellipse cx="299.5" cy="445.5" rx="1.85" ry="2.55" transform="rotate(28 299.5 445.5)"/>
<ellipse cx="308.0" cy="440.9" rx="1.85" ry="2.55" transform="rotate(28 308.0 440.9)"/>
<ellipse cx="316.5" cy="435.9" rx="1.85" ry="2.55" transform="rotate(28 316.5 435.9)"/>
<ellipse cx="324.8" cy="430.9" rx="1.85" ry="2.55" transform="rotate(28 324.8 430.9)"/>
<ellipse cx="333.1" cy="425.8" rx="1.85" ry="2.55" transform="rotate(28 333.1 425.8)"/>
<ellipse cx="341.4" cy="420.8" rx="1.85" ry="2.55" transform="rotate(28 341.4 420.8)"/>
<ellipse cx="349.7" cy="415.8" rx="1.85" ry="2.55" transform="rotate(28 349.7 415.8)"/>
<ellipse cx="358.0" cy="410.5" rx="1.85" ry="2.55" transform="rotate(28 358.0 410.5)"/>
<ellipse cx="366.1" cy="405.3" rx="1.85" ry="2.55" transform="rotate(28 366.1 405.3)"/>
<ellipse cx="374.3" cy="400.4" rx="1.85" ry="2.55" transform="rotate(28 374.3 400.4)"/>
<ellipse cx="382.8" cy="395.8" rx="1.85" ry="2.55" transform="rotate(28 382.8 395.8)"/>
<ellipse cx="391.5" cy="391.1" rx="1.85" ry="2.55" transform="rotate(28 391.5 391.1)"/>
<ellipse cx="399.8" cy="385.9" rx="1.85" ry="2.55" transform="rotate(28 399.8 385.9)"/>
<ellipse cx="408.0" cy="380.5" rx="1.85" ry="2.55" transform="rotate(28 408.0 380.5)"/>
<ellipse cx="416.0" cy="374.9" rx="1.85" ry="2.55" transform="rotate(28 416.0 374.9)"/>
<ellipse cx="423.8" cy="369.1" rx="1.85" ry="2.55" transform="rotate(28 423.8 369.1)"/>
<ellipse cx="431.5" cy="363.1" rx="1.85" ry="2.55" transform="rotate(28 431.5 363.1)"/>
<ellipse cx="439.2" cy="357.1" rx="1.85" ry="2.55" transform="rotate(28 439.2 357.1)"/>
<ellipse cx="446.7" cy="351.0" rx="1.85" ry="2.55" transform="rotate(28 446.7 351.0)"/>
<ellipse cx="454.4" cy="345.1" rx="1.85" ry="2.55" transform="rotate(28 454.4 345.1)"/>
<ellipse cx="462.1" cy="339.2" rx="1.85" ry="2.55" transform="rotate(28 462.1 339.2)"/>
<ellipse cx="469.9" cy="333.3" rx="1.85" ry="2.55" transform="rotate(28 469.9 333.3)"/>
<ellipse cx="477.5" cy="327.3" rx="1.85" ry="2.55" transform="rotate(28 477.5 327.3)"/>
<ellipse cx="485.1" cy="321.2" rx="1.85" ry="2.55" transform="rotate(28 485.1 321.2)"/>
<ellipse cx="492.6" cy="315.2" rx="1.85" ry="2.55" transform="rotate(28 492.6 315.2)"/>
<ellipse cx="500.3" cy="309.3" rx="1.85" ry="2.55" transform="rotate(28 500.3 309.3)"/>
<ellipse cx="508.1" cy="303.5" rx="1.85" ry="2.55" transform="rotate(28 508.1 303.5)"/>
<ellipse cx="515.9" cy="297.8" rx="1.85" ry="2.55" transform="rotate(28 515.9 297.8)"/>
<ellipse cx="523.8" cy="292.2" rx="1.85" ry="2.55" transform="rotate(28 523.8 292.2)"/>
<ellipse cx="531.8" cy="286.7" rx="1.85" ry="2.55" transform="rotate(28 531.8 286.7)"/>
<ellipse cx="539.8" cy="281.2" rx="1.85" ry="2.55" transform="rotate(28 539.8 281.2)"/>
<ellipse cx="547.8" cy="275.9" rx="1.85" ry="2.55" transform="rotate(28 547.8 275.9)"/>
<ellipse cx="556.1" cy="271.0" rx="1.85" ry="2.55" transform="rotate(28 556.1 271.0)"/>
<ellipse cx="564.5" cy="266.4" rx="1.85" ry="2.55" transform="rotate(28 564.5 266.4)"/>
<ellipse cx="573.1" cy="261.9" rx="1.85" ry="2.55" transform="rotate(28 573.1 261.9)"/>
<ellipse cx="581.7" cy="257.5" rx="1.85" ry="2.55" transform="rotate(28 581.7 257.5)"/>
<ellipse cx="590.4" cy="253.3" rx="1.85" ry="2.55" transform="rotate(28 590.4 253.3)"/>
<ellipse cx="599.2" cy="249.5" rx="1.85" ry="2.55" transform="rotate(28 599.2 249.5)"/>
<ellipse cx="608.2" cy="246.0" rx="1.85" ry="2.55" transform="rotate(28 608.2 246.0)"/>
<ellipse cx="617.3" cy="242.7" rx="1.85" ry="2.55" transform="rotate(28 617.3 242.7)"/>
<ellipse cx="626.4" cy="239.4" rx="1.85" ry="2.55" transform="rotate(28 626.4 239.4)"/>
<ellipse cx="635.6" cy="236.3" rx="1.85" ry="2.55" transform="rotate(28 635.6 236.3)"/>
<ellipse cx="644.8" cy="233.4" rx="1.85" ry="2.55" transform="rotate(28 644.8 233.4)"/>
<ellipse cx="654.1" cy="230.7" rx="1.85" ry="2.55" transform="rotate(28 654.1 230.7)"/>
<ellipse cx="663.3" cy="227.9" rx="1.85" ry="2.55" transform="rotate(28 663.3 227.9)"/>
<ellipse cx="672.7" cy="225.5" rx="1.85" ry="2.55" transform="rotate(28 672.7 225.5)"/>
<ellipse cx="682.0" cy="223.2" rx="1.85" ry="2.55" transform="rotate(28 682.0 223.2)"/>
<ellipse cx="691.5" cy="221.3" rx="1.85" ry="2.55" transform="rotate(28 691.5 221.3)"/>
<ellipse cx="700.9" cy="219.7" rx="1.85" ry="2.55" transform="rotate(28 700.9 219.7)"/>
<ellipse cx="710.6" cy="218.4" rx="1.85" ry="2.55" transform="rotate(28 710.6 218.4)"/>
<ellipse cx="720.2" cy="217.0" rx="1.85" ry="2.55" transform="rotate(28 720.2 217.0)"/>
<ellipse cx="729.8" cy="215.7" rx="1.85" ry="2.55" transform="rotate(28 729.8 215.7)"/>
<ellipse cx="739.4" cy="214.4" rx="1.85" ry="2.55" transform="rotate(28 739.4 214.4)"/>
<ellipse cx="749.1" cy="213.0" rx="1.85" ry="2.55" transform="rotate(28 749.1 213.0)"/>
<ellipse cx="758.7" cy="211.1" rx="1.85" ry="2.55" transform="rotate(28 758.7 211.1)"/>
<ellipse cx="768.3" cy="208.8" rx="1.85" ry="2.55" transform="rotate(28 768.3 208.8)"/>
<ellipse cx="777.7" cy="206.1" rx="1.85" ry="2.55" transform="rotate(28 777.7 206.1)"/>
<ellipse cx="787.0" cy="203.0" rx="1.85" ry="2.55" transform="rotate(28 787.0 203.0)"/>
<ellipse cx="796.2" cy="199.9" rx="1.85" ry="2.55" transform="rotate(28 796.2 199.9)"/>
<ellipse cx="805.4" cy="196.6" rx="1.85" ry="2.55" transform="rotate(28 805.4 196.6)"/>
<ellipse cx="814.6" cy="193.4" rx="1.85" ry="2.55" transform="rotate(28 814.6 193.4)"/>
<ellipse cx="823.7" cy="190.1" rx="1.85" ry="2.55" transform="rotate(28 823.7 190.1)"/>
<ellipse cx="832.8" cy="186.9" rx="1.85" ry="2.55" transform="rotate(28 832.8 186.9)"/>
<ellipse cx="842.0" cy="183.9" rx="1.85" ry="2.55" transform="rotate(28 842.0 183.9)"/>
<ellipse cx="851.3" cy="180.9" rx="1.85" ry="2.55" transform="rotate(28 851.3 180.9)"/>
<ellipse cx="860.5" cy="177.7" rx="1.85" ry="2.55" transform="rotate(28 860.5 177.7)"/>
<ellipse cx="869.7" cy="174.6" rx="1.85" ry="2.55" transform="rotate(28 869.7 174.6)"/>
<ellipse cx="878.9" cy="171.4" rx="1.85" ry="2.55" transform="rotate(28 878.9 171.4)"/>
<ellipse cx="888.0" cy="168.3" rx="1.85" ry="2.55" transform="rotate(28 888.0 168.3)"/>
<ellipse cx="897.2" cy="165.2" rx="1.85" ry="2.55" transform="rotate(28 897.2 165.2)"/>
<ellipse cx="904.6" cy="165.1" rx="1.85" ry="2.55" transform="rotate(28 904.6 165.1)"/>
<ellipse cx="911.5" cy="169.8" rx="1.85" ry="2.55" transform="rotate(28 911.5 169.8)"/>
<ellipse cx="915.5" cy="177.1" rx="1.85" ry="2.55" transform="rotate(28 915.5 177.1)"/>
<ellipse cx="915.9" cy="186.3" rx="1.85" ry="2.55" transform="rotate(28 915.9 186.3)"/>
<ellipse cx="915.9" cy="196.0" rx="1.85" ry="2.55" transform="rotate(28 915.9 196.0)"/>
<ellipse cx="915.9" cy="205.7" rx="1.85" ry="2.55" transform="rotate(28 915.9 205.7)"/>
<ellipse cx="915.9" cy="215.4" rx="1.85" ry="2.55" transform="rotate(28 915.9 215.4)"/>
<ellipse cx="915.9" cy="225.1" rx="1.85" ry="2.55" transform="rotate(28 915.9 225.1)"/>
<ellipse cx="915.9" cy="234.8" rx="1.85" ry="2.55" transform="rotate(28 915.9 234.8)"/>
<ellipse cx="915.9" cy="244.5" rx="1.85" ry="2.55" transform="rotate(28 915.9 244.5)"/>
<ellipse cx="915.9" cy="254.2" rx="1.85" ry="2.55" transform="rotate(28 915.9 254.2)"/>
<ellipse cx="915.9" cy="264.0" rx="1.85" ry="2.55" transform="rotate(28 915.9 264.0)"/>
<ellipse cx="915.9" cy="273.7" rx="1.85" ry="2.55" transform="rotate(28 915.9 273.7)"/>
<ellipse cx="915.9" cy="283.4" rx="1.85" ry="2.55" transform="rotate(28 915.9 283.4)"/>
<ellipse cx="915.9" cy="293.1" rx="1.85" ry="2.55" transform="rotate(28 915.9 293.1)"/>
<ellipse cx="915.9" cy="302.8" rx="1.85" ry="2.55" transform="rotate(28 915.9 302.8)"/>
<ellipse cx="915.9" cy="312.5" rx="1.85" ry="2.55" transform="rotate(28 915.9 312.5)"/>
<ellipse cx="915.9" cy="322.2" rx="1.85" ry="2.55" transform="rotate(28 915.9 322.2)"/>
<ellipse cx="915.9" cy="331.9" rx="1.85" ry="2.55" transform="rotate(28 915.9 331.9)"/>
<ellipse cx="915.9" cy="341.7" rx="1.85" ry="2.55" transform="rotate(28 915.9 341.7)"/>
<ellipse cx="915.9" cy="351.4" rx="1.85" ry="2.55" transform="rotate(28 915.9 351.4)"/>
<ellipse cx="915.9" cy="361.1" rx="1.85" ry="2.55" transform="rotate(28 915.9 361.1)"/>
<ellipse cx="915.9" cy="370.8" rx="1.85" ry="2.55" transform="rotate(28 915.9 370.8)"/>
<ellipse cx="915.9" cy="380.5" rx="1.85" ry="2.55" transform="rotate(28 915.9 380.5)"/>
</g>
<g fill="none" stroke="#333" stroke-width="1.1">
<path d="M48 322.5 H184.7"/>
<path d="M48 945.8 H253.9"/>
<path d="M56.2 335 V589.4 M56.2 641.4 V930"/>
<path d="M184.1 450 H253.8"/>
<path d="M184.1 671.5 H250.5"/>
<path d="M192.5 462 V534.2 M192.5 586.8 V655 M192.5 685 V781.6 M192.5 833.3 V930"/>
<path d="M200.5 319.8 L259.3 442.6"/>
<path d="M817.9 25.6 L876.9 148.7"/>
<path d="M215 322.3 L486 193.7 M540.3 167.3 L808 40"/>
<path d="M571.6 278 V379.1 M571.6 424.2 V526"/>
<path d="M720 436 V510.8"/>
<circle cx="720.1" cy="541.2" r="30.4"/>
<path d="M294 901.6 H357.4"/>
<circle cx="429.5" cy="902" r="72.1"/>
</g>
<g fill="#0a0a0a" stroke="none">
<polygon points="56.2,322.8 62.0,340.8 50.4,340.8"/>
<polygon points="56.2,945.4 50.4,927.4 62.0,927.4"/>
<polygon points="192.5,450.2 198.3,468.2 186.7,468.2"/>
<polygon points="192.5,671.5 186.7,653.5 198.3,653.5"/>
<polygon points="192.5,671.5 198.3,689.5 186.7,689.5"/>
<polygon points="192.5,945.4 186.7,927.4 198.3,927.4"/>
<polygon points="204.6,327.3 218.4,314.3 223.3,324.8"/>
<polygon points="821.0,33.8 807.2,46.8 802.3,36.3"/>
<polygon points="571.6,264.6 577.4,281.1 565.8,281.1"/>
<polygon points="571.6,541.8 565.8,523.8 577.4,523.8"/>
<polygon points="720.0,421.3 725.8,439.3 714.2,439.3"/>
<polygon points="279.2,901.6 297.2,895.8 297.2,907.4"/>
<circle cx="949" cy="453" r="0.8"/>
</g>
<g fill="#0a0a0a" stroke="#0a0a0a" stroke-width="0.25" font-family="'Liberation Sans', sans-serif">
<text x="25.93" y="624.90" font-size="29.0" textLength="52.10" lengthAdjust="spacingAndGlyphs">50.5</text>
<path d="M81.60 604.90 L84.00 604.90 L80.90 612.60 L79.50 612.60 z"/><path d="M86.80 604.90 L89.20 604.90 L86.10 612.60 L84.70 612.60 z"/>
<text x="153.34" y="569.70" font-size="29.0" textLength="67.70" lengthAdjust="spacingAndGlyphs">20.25</text>
<path d="M224.30 550.10 L226.70 550.10 L223.60 557.80 L222.20 557.80 z"/><path d="M229.50 550.10 L231.90 550.10 L228.80 557.80 L227.40 557.80 z"/>
<text x="172.42" y="816.40" font-size="29.0" textLength="30.53" lengthAdjust="spacingAndGlyphs">25</text>
<path d="M206.20 796.40 L208.60 796.40 L205.50 804.10 L204.10 804.10 z"/><path d="M211.40 796.40 L213.80 796.40 L210.70 804.10 L209.30 804.10 z"/>
<text x="547.97" y="408.70" font-size="21.9" textLength="39.68" lengthAdjust="spacingAndGlyphs">25.5</text>
<path d="M590.10 393.30 L592.10 393.30 L589.75 398.90 L588.65 398.90 z"/><path d="M594.10 393.30 L596.10 393.30 L593.75 398.90 L592.65 398.90 z"/>
<text x="708.07" y="550.10" font-size="29.0" textLength="13.61" lengthAdjust="spacingAndGlyphs">3</text>
<path d="M725.80 530.70 L728.20 530.70 L725.40 537.70 L724.00 537.70 z"/><path d="M730.60 530.70 L733.00 530.70 L730.20 537.70 L728.80 537.70 z"/>
<text x="371.29" y="911.00" font-size="29.0" textLength="14.53" lengthAdjust="spacingAndGlyphs">2</text>
<path d="M388.30 891.30 L390.70 891.30 L387.60 899.00 L386.20 899.00 z"/><path d="M393.50 891.30 L395.90 891.30 L392.80 899.00 L391.40 899.00 z"/>
<text x="401.55" y="911.00" font-size="28.6" textLength="16.37" lengthAdjust="spacingAndGlyphs">X</text>
<text x="424.87" y="911.00" font-size="29.0" textLength="51.55" lengthAdjust="spacingAndGlyphs">0.75</text>
<path d="M478.70 891.30 L481.10 891.30 L478.00 899.00 L476.60 899.00 z"/><path d="M483.90 891.30 L486.30 891.30 L483.20 899.00 L481.80 899.00 z"/>
<g transform="translate(508.8 182.2) rotate(-25.5)">
<text x="-14.66" y="9.90" font-size="29.0" textLength="27.55" lengthAdjust="spacingAndGlyphs">63</text>
<path d="M18.05 -11.30 L20.15 -11.30 L17.45 -4.10 L16.15 -4.10 z"/><path d="M22.85 -11.30 L24.95 -11.30 L22.25 -4.10 L20.95 -4.10 z"/>
</g>
</g>
</svg>
</body>
</html>
